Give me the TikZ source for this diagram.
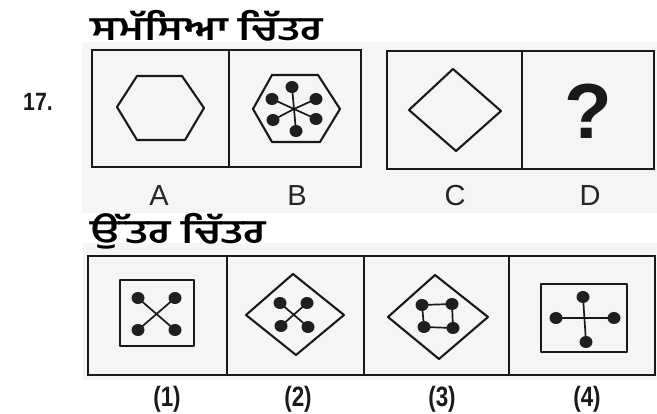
\documentclass[tikz,border=0pt]{standalone}
\usepackage{fontspec}
\setmainfont{Liberation Sans}
\newfontfamily\gurfont[Script=Gurmukhi]{Hind Jalandhar}
\tikzset{
  framebox/.style={line width=2.6pt, draw=black!90},
  shapeline/.style={line width=2.1pt, draw=black!90, line join=round},
  spoke/.style={line width=1.7pt, draw=black!90},
  blob/.style={fill=black!88},
  letterlbl/.style={font=\fontsize{29}{29}\selectfont, text=black!85},
  numlbl/.style={font=\bfseries\fontsize{28}{28}\selectfont, xscale=0.8, text=black!90},
  titlelbl/.style={font=\gurfont\bfseries\fontsize{33}{33}\selectfont, xscale=1.3, anchor=base west, inner sep=0pt}
}
\begin{document}
\begin{tikzpicture}[x=1pt,y=-1pt]
\useasboundingbox (0,0) rectangle (657,414);
\fill[white] (0,0) rectangle (657,414);
% scanned backgrounds
\fill[black!4] (82,42) rectangle (657,213);
\fill[black!4] (83,243) rectangle (657,380);

% titles
\node[titlelbl] (title1) at (90,41) {ਸਮੱਸਿਆ ਚਿੱਤਰ};
\node[titlelbl] (title2) at (90,244) {ਉੱਤਰ ਚਿੱਤਰ};
\node[font=\bfseries\fontsize{25}{25}\selectfont, xscale=0.85, text=black!90] (qnum) at (38,102) {17.};

% top frames
\draw[framebox] (92,50) rectangle (361,167);
\draw[framebox] (229,50) -- (229,167);
\draw[framebox] (387,51) rectangle (654,169);
\draw[framebox] (522,51) -- (522,169);

% A: hexagon
\draw[shapeline] (117,107) -- (137,76) -- (182,76) -- (204,108) -- (185,140) -- (137,140) -- cycle;

% B: hexagon with six spokes
\draw[shapeline] (253,109) -- (272,75) -- (318,75) -- (340,109) -- (320,142) -- (272,142) -- cycle;
\coordinate (bc) at (294,109);
\foreach \p in {(292,87),(272,99),(316,99),(273,120),(316,119),(296,131)}{
  \draw[spoke] (bc) -- \p;
  \fill[blob] \p ellipse (6.5 and 6);
}

% C: diamond
\draw[shapeline] (453,69) -- (501,111) -- (456,151) -- (409,110) -- cycle;

% D: question mark
\node[font=\bfseries\fontsize{78}{78}\selectfont, text=black!90] (qmark) at (588,111) {?};

% labels top
\node[letterlbl] (labA) at (159,196) {A};
\node[letterlbl] (labB) at (297,196) {B};
\node[letterlbl] (labC) at (455,196) {C};
\node[letterlbl] (labD) at (590,196) {D};

% bottom frames
\draw[framebox] (88,256) rectangle (655,375);
\draw[framebox] (227,256) -- (227,375);
\draw[framebox] (364,256) -- (364,375);
\draw[framebox] (509,256) -- (509,375);

% (1)
\draw[shapeline] (120,280) rectangle (194,346);
\draw[spoke] (138,298) -- (175,330);
\draw[spoke] (175,298) -- (138,330);
\foreach \p in {(138,298),(175,298),(138,330),(175,330)}{
  \fill[blob] \p ellipse (6.5 and 6);
}

% (2)
\draw[shapeline] (293,274) -- (344,315) -- (296,355) -- (246,315) -- cycle;
\draw[spoke] (280,303) -- (308,327);
\draw[spoke] (307,303) -- (281,326);
\foreach \p in {(280,303),(307,303),(281,326),(308,327)}{
  \fill[blob] \p ellipse (6.5 and 6);
}

% (3)
\draw[shapeline] (435,275) -- (488,317) -- (439,359) -- (388,317) -- cycle;
\draw[spoke] (422,305) -- (452,304) -- (453,328) -- (424,327) -- cycle;
\foreach \p in {(422,305),(452,304),(453,328),(424,327)}{
  \fill[blob] \p ellipse (6.5 and 6);
}

% (4)
\draw[shapeline] (541,284) rectangle (627,352);
\draw[spoke] (583,297) -- (586,342);
\draw[spoke] (556,318) -- (614,318);
\foreach \p in {(583,297),(614,318),(586,342),(556,318)}{
  \fill[blob] \p ellipse (6.5 and 6);
}

% labels bottom
\node[numlbl] (lab1) at (167,399) {(1)};
\node[numlbl] (lab2) at (298,399) {(2)};
\node[numlbl] (lab3) at (442,399) {(3)};
\node[numlbl] (lab4) at (587,399) {(4)};
\end{tikzpicture}
\end{document}
